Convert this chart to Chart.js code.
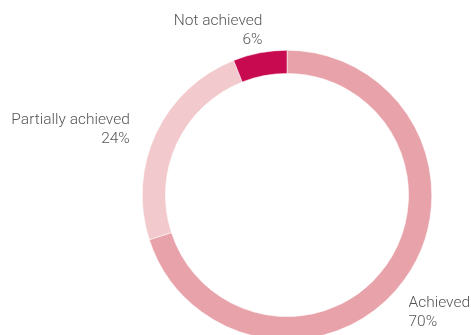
<!DOCTYPE html>
<html>
<head>
<meta charset="utf-8">
<script src="https://cdn.jsdelivr.net/npm/chart.js@4/dist/chart.umd.min.js"></script>
<style>
  html, body { margin: 0; padding: 0; background: #fff; overflow: hidden; }
  #wrap { width: 471px; height: 345px; }
</style>
</head>
<body>
<div id="wrap"><canvas id="ring" width="471" height="345"></canvas></div>
<script>
const categories = ["Achieved", "Partially achieved", "Not achieved"];
const shares = [70, 24, 6];
const sliceColors = ["#e8a2a9", "#f2c9cc", "#c80a50"];

// labels sit outside the ring, along each slice's middle angle
const outsideLabels = {
  id: "outsideLabels",
  afterDraw(chart) {
    const ctx = chart.ctx;
    const arcs = chart.getDatasetMeta(0).data;
    ctx.save();
    ctx.font = "300 15.5px Roboto, 'DejaVu Sans', sans-serif";
    ctx.fillStyle = "#555";
    ctx.textBaseline = "alphabetic";
    arcs.forEach((arc, i) => {
      const mid = (arc.startAngle + arc.endAngle) / 2;
      const r = arc.outerRadius * 1.2;
      let x = arc.x + Math.cos(mid) * r;
      let y = arc.y + Math.sin(mid) * r;
      const left = x < arc.x;
      ctx.textAlign = left ? "right" : "left";
      if (i === 0) { x -= 19; y += 10; }
      if (i === 1) { y += 3; }
      if (i === 2) { x += 8; y += 1; }
      ctx.fillText(categories[i], x, y);
      ctx.fillText(shares[i] + "%", x, y + 19);
    });
    ctx.restore();
  }
};

new Chart(document.getElementById("ring"), {
  type: "doughnut",
  data: {
    labels: categories,
    datasets: [{
      data: shares,
      backgroundColor: sliceColors,
      borderColor: "#fff",
      borderWidth: 0.5
    }]
  },
  options: {
    responsive: false,
    animation: false,
    cutout: "84%",
    layout: { padding: { left: 142, right: 39, top: 50, bottom: 5 } },
    plugins: {
      legend: { display: false },
      tooltip: { enabled: false }
    }
  },
  plugins: [outsideLabels]
});
</script>
</body>
</html>
